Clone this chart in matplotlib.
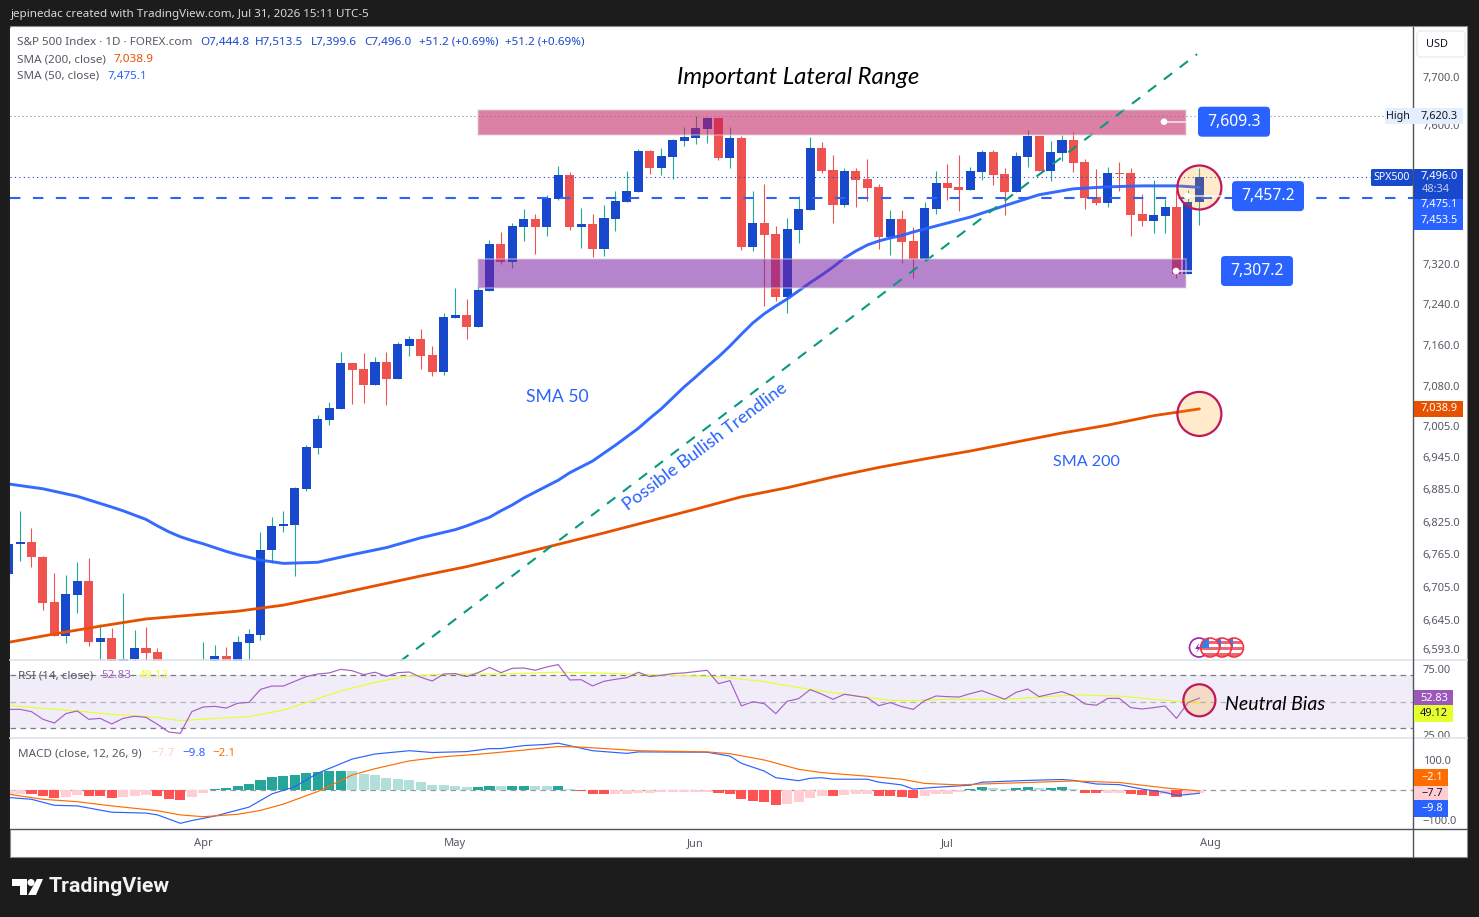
import matplotlib
matplotlib.use("Agg")
import matplotlib.pyplot as plt
from matplotlib.patches import Rectangle, FancyBboxPatch, Circle, Polygon
from matplotlib.ticker import NullLocator, FixedLocator, FixedFormatter
from matplotlib.transforms import ScaledTranslation

# ---------- data ----------
open_ = [6731,6785,6790,6762,6680,6618,6693,6718,6607,6614,6551,6577,6596,6589,6555,6530,6515,6540,6555,6582,
         6564,6605,6620,6774,6818,6821,6888,6965,7018,7039,7127,7116,7085,7129,7097,7161,7173,7143,7110,7215,
         7221,7197,7268,7361,7325,7395,7411,7395,7452,7500,7395,7401,7351,7411,7446,7466,7549,7514,7537,7569,
         7576,7594,7616,7535,7576,7355,7403,7381,7256,7389,7429,7555,7510,7440,7508,7492,7476,7375,7411,7367,
         7331,7432,7484,7476,7470,7506,7547,7502,7466,7537,7580,7508,7545,7571,7527,7456,7444,7504,7504,7421,
         7407,7417,7436,7301,7444.8]
high = [6801,6846,6816,6764,6733,6729,6753,6759,6640,6632,6696,6629,6634,6596,6565,6550,6555,6607,6602,6598,
        6618,6631,6807,6835,6846,6891,6970,7027,7052,7149,7127,7147,7139,7149,7167,7179,7193,7160,7225,7274,
        7252,7278,7369,7385,7403,7432,7421,7460,7518,7506,7434,7421,7440,7468,7508,7553,7551,7555,7574,7598,
        7620.3,7620,7616,7598,7580,7468,7482,7397,7413,7458,7578,7567,7541,7514,7514,7533,7482,7429,7429,7395,
        7446,7508,7522,7541,7516,7551,7551,7514,7547,7592,7580,7569,7582,7588,7533,7512,7516,7527,7514,7462,
        7490,7452,7470,7470,7513.5]
low = [6718,6755,6744,6665,6618,6605,6660,6600,6559,6537,6540,6569,6560,6540,6510,6500,6505,6530,6546,6552,
       6552,6569,6611,6751,6807,6727,6884,6953,7008,7039,7048,7050,7085,7046,7097,7141,7116,7102,7104,7215,
       7173,7197,7268,7321,7313,7367,7341,7377,7450,7389,7353,7335,7337,7387,7446,7466,7502,7500,7492,7559,
       7563,7565,7531,7514,7349,7347,7238,7248,7225,7363,7429,7504,7403,7436,7436,7448,7351,7339,7323,7293,
       7331,7421,7450,7427,7470,7490,7480,7419,7466,7516,7508,7488,7529,7506,7432,7440,7436,7468,7377,7397,
       7383,7383,7293,7301,7399.6]
close = [6786,6790,6761,6678,6618,6694,6718,6607,6614,6551,6578,6596,6587,6546,6530,6515,6540,6560,6582,6559,
         6607,6622,6775,6819,6823,6889,6967,7020,7041,7127,7114,7085,7129,7097,7163,7173,7141,7110,7217,7221,
         7197,7270,7361,7325,7397,7411,7395,7454,7500,7395,7401,7351,7413,7448,7468,7549,7514,7539,7571,7578,
         7596,7616,7535,7576,7355,7403,7379,7256,7391,7432,7555,7508,7440,7508,7490,7474,7375,7411,7365,7331,
         7434,7484,7474,7470,7508,7547,7500,7466,7539,7580,7508,7547,7571,7525,7454,7444,7504,7502,7419,7407,
         7419,7436,7301,7446,7496.0]

sma50_bars = [0,3,6,9,10,11,12,13,14,15,16,17,18,19,20,21,22,23,24,27,30,33,36,39,40,41,42,43,44,45,46,47,48,49,50,
              51,52,53,54,55,56,57,58,59,60,61,62,63,64,65,66,67,68,69,70,71,72,73,74,75,76,77,78,79,80,81,84,87,90,93,96,99,102,104]
sma50_vals = [6897,6888,6874,6854,6847,6839,6831,6819,6808,6799,6792,6786,6779,6772,6766,6761,6756,6753,6750,6752,
              6766,6779,6797,6812,6819,6827,6835,6847,6858,6871,6882,6893,6904,6918,6929,
              6940,6955,6970,6986,7002,7021,7039,7060,7081,7100,7120,7139,7160,7183,7205,7223,7238,7252,7268,7284,7299,
              7315,7333,7347,7359,7367,7373,7378,7385,7391,7397,7415,7438,7460,7472,7476,7478,7478,7475.1]
sma200_bars = [0,4,8,12,16,20,24,28,32,36,40,44,48,52,56,60,64,68,72,76,80,84,88,92,96,100,104]
sma200_vals = [6607,6622,6636,6649,6656,6663,6674,6691,6709,6727,6744,6764,6785,6806,6828,6850,6873,6890,6910,6928,
               6944,6959,6976,6993,7008,7026,7038.9]

rsi = [44.3,44.3,42.6,36.8,34.0,41.1,43.1,36.8,37.5,33.3,37.5,39.1,38.3,33.0,27.2,26.2,42.6,46.1,46.6,45.3,
       48.9,49.6,59.4,61.9,61.9,65.5,69.0,71.0,71.8,74.5,73.5,70.5,72.3,69.2,72.0,72.5,68.5,65.7,71.0,71.3,
       69.0,72.0,76.0,72.0,75.3,75.5,73.8,76.3,78.1,66.5,66.7,62.0,65.5,67.0,68.2,72.3,69.0,70.0,71.3,71.8,
       72.8,73.8,63.7,66.0,46.9,50.1,48.6,41.1,50.4,52.4,59.2,55.9,51.9,55.7,54.4,53.1,47.1,49.4,46.4,44.3,
       50.9,54.4,53.9,53.6,56.2,58.4,55.2,51.9,57.2,59.7,53.9,55.9,57.7,54.4,48.4,47.4,52.6,52.6,45.6,44.6,
       45.6,46.9,37.5,49.4,52.83]
rsi_ma_bars = [0,2,5,9,13,15,18,21,24,26,29,32,35,38,43,48,51,56,62,66,69,73,77,79,82,85,88,93,97,100,104]
rsi_ma_vals = [47.4,45.8,43.8,40.6,38.3,35.8,37.5,38.8,43.8,49.4,58.2,64.7,69.5,70.8,71.0,72.3,71.8,70.5,69.0,65.2,
               60.7,55.7,51.1,50.9,51.9,51.9,52.4,55.2,54.4,51.9,49.12]

macd_hist = [-15,-12,-12.5,-19,-26,-22,-16,-19,-19.5,-26,-22,-19,-16,-19,-29,-32,-22,-9,4,8,
             14,21,34,44,48,51,58,61,64,64.5,64,54,51,41,38,34,28,18,17.5,14,
             11,11.5,14,13.5,14,14.5,14,13.5,14,4,-2,-12,-12.5,-12,-11.5,-9,-8.5,-7,-6.5,-6.3,
             -6.2,-6,-10,-13,-30,-37,-40,-50,-47,-40,-27,-20,-20.5,-17,-13,-12.8,-20,-20.3,-23,-27,
             -20,-13,-11,-7,3,10,7,5.5,7,12,8,9,9.5,5.5,-8,-9,-8,-7.5,-13,-16,
             -19,-13,-22,-11,-7.7]
macd_bars = [0,2,4,6,9,12,13,15,16,18,21,23,25,27,30,32,35,37,40,42,43,45,47,48,51,54,55,61,63,64,66,67,69,70,71,72,75,76,78,79,81,84,85,89,92,93,95,97,99,101,102,103,104]
macd_vals = [-24,-30,-50,-52,-73,-76,-82,-110,-101,-86,-56,-12,12,57,104,121,132,126,129,139,139,149,153,157,132,123,128,127,114,90,64,42,32,40,42,37,37,27,18,4,10,17,27,33,36,33,21,19,4,-7,-17,-14,-9.8]
signal_bars = [0,3,6,9,13,15,17,20,22,24,27,30,32,35,38,41,45,48,50,55,61,63,66,69,71,75,78,80,83,85,93,97,101,104]
signal_vals = [-13,-30,-38,-52,-68,-82,-88,-80,-67,-46,-4,51,72,98,112,120,134,146,144,132,128,122,101,70,59,47,37,23,18,21,31,26,8,-2.1]

month_bars = [17,39,60,82,105]
month_labels = ["Apr","May","Jun","Jul","Aug"]
price_ticks = [7700,7600,7320,7240,7160,7080,7005,6945,6885,6825,6765,6705,6645,6593]

range_top = (7582,7634)
range_bottom = (7274,7331)
period_high = 7620.3
last_close = 7496.0
hline_level = 7453.5
trend_start = (34.2,6573)
trend_end = (103.8,7750)
level_tags = [7609.3,7457.2,7307.2]

# ---------- style ----------
BG="#1c1c1c"; UP="#1848cc"; UPW="#22ab94"; DN="#ef5350"; BLUE="#2962ff"; ORANGE="#e65100"
GRAY="#555963"; TXT="#131722"; FONT="Noto Sans"; ITAL="Lato"; LEG=8.4
plt.rcParams['font.family']=[FONT,'DejaVu Sans']
W,H=1479,917
fig=plt.figure(figsize=(W/100,H/100),dpi=100,facecolor=BG)
def axpx(x0,y0,x1,y1,**k):
    return fig.add_axes([x0/W,1-y1/H,(x1-x0)/W,(y1-y0)/H],**k)

bg=fig.add_axes([0,0,1,1],zorder=-1); bg.set_xlim(0,W); bg.set_ylim(H,0); bg.axis('off')
bg.add_patch(Rectangle((10,26),1457,831,fc="white",ec="#8a8a8a",lw=0.8))

BAR0,BARSTEP=8.6,11.45
xlim=((10-BAR0)/BARSTEP,(1413-BAR0)/BARSTEP)
ax=axpx(10,28,1413,661); rs=axpx(10,661,1413,738); mc=axpx(10,739,1413,829)
bars=list(range(len(close)))
for a in (ax,rs,mc):
    a.set_xlim(*xlim)
    for s in a.spines.values(): s.set_visible(False)
    a.yaxis.tick_right()
    a.tick_params(axis='y',length=0,pad=7,labelsize=8.0,labelcolor=GRAY)
    a.tick_params(axis='x',length=0)
    a.set_xticks([])

# main pane
ax.set_yscale('log'); ax.set_ylim(6573.6,7805.2)
ax.yaxis.set_major_locator(FixedLocator(price_ticks))
ax.yaxis.set_major_formatter(FixedFormatter([f"{v:,.1f}" for v in price_ticks]))
ax.yaxis.set_minor_locator(NullLocator())
for i,(o,h,l,c) in enumerate(zip(open_,high,low,close)):
    up=c>=o
    ax.vlines(i,l,h,color=UPW if up else DN,lw=0.8,zorder=2)
    ax.bar(i,max(abs(c-o),2),bottom=min(o,c),width=0.79,color=UP if up else DN,lw=0,zorder=2.5)
ax.plot(sma200_bars,sma200_vals,color=ORANGE,lw=2.0,zorder=3,solid_capstyle='round')
ax.plot(sma50_bars,sma50_vals,color=BLUE,lw=2.1,zorder=3,solid_capstyle='round',alpha=0.95)
x0r=(478-BAR0)/BARSTEP; x1r=(1186-BAR0)/BARSTEP
ax.add_patch(Rectangle((x0r,range_top[0]),x1r-x0r,range_top[1]-range_top[0],fc="#c2185b",alpha=0.55,ec="none",zorder=4))
ax.add_patch(Rectangle((x0r,range_bottom[0]),x1r-x0r,range_bottom[1]-range_bottom[0],fc="#7b1fa2",alpha=0.55,ec="none",zorder=4))
ax.axhline(period_high,color="#787b86",lw=0.72,ls=(0,(1,3)),zorder=5)
ax.axhline(last_close,color=UP,lw=0.8,ls=(0,(1,3)),zorder=5)
ax.axhline(hline_level,color=BLUE,lw=1.5,ls=(0,(5,6)),zorder=5)
ax.plot([trend_start[0],trend_end[0]],[trend_start[1],trend_end[1]],color="#089981",lw=1.5,ls=(0,(5,4.6)),zorder=5)
up_px=ScaledTranslation(0,1/100,fig.dpi_scale_trans)
for lab in ax.get_yticklabels():
    lab.set_transform(lab.get_transform()+up_px)

# RSI pane
rs.set_ylim(22.7,80.8)
rs.axhspan(30,70,color="#7e57c2",alpha=0.1,lw=0,zorder=1)
for v,col in ((70,"#787b86"),(30,"#787b86"),(50,"#b2b5be")):
    rs.axhline(v,color=col,lw=0.9,ls=(0,(4.5,3.5)),zorder=2)
rs.plot(rsi_ma_bars,rsi_ma_vals,color="#e6ff2e",lw=0.85,zorder=3)
rs.plot(bars,rsi,color="#a45fc7",lw=0.85,zorder=4)
rs.set_yticks([75,25]); rs.set_yticklabels(["75.00","25.00"])

# MACD pane
mc.set_ylim(-129,171)
mc.axhline(0,color="#9598a1",lw=0.9,ls=(0,(4.5,3.5)),zorder=1)
hcol=[]
for i,v in enumerate(macd_hist):
    prev=macd_hist[i-1] if i else v
    if v>=0: hcol.append("#26a69a" if v>=prev else "#b2dfdb")
    else: hcol.append("#ff5252" if v<prev else "#ffcdd2")
mc.bar(bars,macd_hist,width=0.88,color=hcol,lw=0,zorder=2)
mc.plot(macd_bars,macd_vals,color=BLUE,lw=0.85,zorder=3)
mc.plot(signal_bars,signal_vals,color="#ff6d00",lw=0.85,zorder=4)
mc.set_yticks([100,-100]); mc.set_yticklabels(["100.0","−100.0"])
mc.set_xticks(month_bars); mc.set_xticklabels(month_labels)
mc.tick_params(axis='x',length=0,pad=6.5,labelsize=8.0,labelcolor=GRAY)

# ---------- overlay ----------
ov=fig.add_axes([0,0,1,1],zorder=10,facecolor="none"); ov.set_xlim(0,W); ov.set_ylim(H,0); ov.axis('off')
def to_ov(a,x,y):
    return ov.transData.inverted().transform(a.transData.transform((x,y)))
def py(p): return to_ov(ax,0,p)[1]
def bx(i): return to_ov(ax,i,6800)[0]
def t(x,y,s,color=GRAY,size=7.9,ha='left',**k):
    return ov.text(x,y,s,color=color,fontsize=size,ha=ha,va='center',**k)
def box(x0,y0,x1,y1,color,r=1.5,z=6):
    ov.add_patch(FancyBboxPatch((x0+r,y0+r),x1-x0-2*r,y1-y0-2*r,boxstyle=f"round,pad={r},rounding_size={r}",fc=color,ec="none",zorder=z))

# frame lines
ov.plot([10,1467],[660,660],color="#e0e3eb",lw=1.2,zorder=1)
ov.plot([10,1467],[738,738],color="#e0e3eb",lw=1.2,zorder=1)
ov.plot([10,1467],[829,829],color="#50535e",lw=1.0,zorder=1)
ov.plot([1413,1413],[27,857],color="#50535e",lw=1.0,zorder=1)

# halo of range boxes
for rng in (range_top,range_bottom):
    y0,y1=py(rng[1]),py(rng[0])
    ov.add_patch(Rectangle((478,y0),708,y1-y0,fc="none",ec="#d8d8d8",lw=1.2,alpha=0.5,zorder=1.5))

# header and legends
t(11,14.5,"jepinedac created with TradingView.com, Jul 31, 2026 15:11 UTC-5",color="#d6d8de",size=LEG)
t(17,42.5,"S&P 500 Index · 1D · FOREX.com",size=LEG)
for x,s in ((200,"O7,444.8"),(255,"H7,513.5"),(311,"L7,399.6"),(364,"C7,496.0"),(419,"+51.2 (+0.69%)"),(505,"+51.2 (+0.69%)")):
    t(x,42.5,s,color=UP,size=LEG)
t(17,59.5,"SMA (200, close)",size=LEG); t(113,59.5,"7,038.9",color=ORANGE,size=LEG)
t(17,76.5,"SMA (50, close)",size=LEG); t(107,76.5,"7,475.1",color=BLUE,size=LEG)
t(18,676,"RSI (14, close)",size=LEG); t(101,676,"52.83",color="#a45fc7",size=LEG); t(139,676,"49.12",color="#e6ff2e",size=LEG)
t(18,754,"MACD (close, 12, 26, 9)",size=LEG); t(151,754,"−7.7",color="#ffcdd2",size=LEG); t(182,754,"−9.8",color=BLUE,size=LEG); t(212,754,"−2.1",color="#ff6d00",size=LEG)

# drawn labels
t(798,77,"Important Lateral Range",color="black",size=17.2,ha='center',family=ITAL,style='italic')
t(557,397,"SMA 50",color=BLUE,size=12.7,ha='center',family=ITAL)
t(1086,462.5,"SMA 200",color=BLUE,size=11.6,ha='center',family=ITAL)
t(705,447,"Possible Bullish Trendline",color=BLUE,size=12.9,ha='center',family=ITAL,rotation=37,rotation_mode='anchor')
t(1275,705,"Neutral Bias",color="black",size=14,ha='center',family=ITAL,style='italic')

# circles
for cy,r in ((py(last_close)+10.5,22),(py(7038.9)+5,22),(700.3,16)):
    ov.add_patch(Circle((bx(104),cy),r,fc="#ff9800",ec="none",alpha=0.2,zorder=3))
    ov.add_patch(Circle((bx(104),cy),r,fc="none",ec="#c2185b",lw=1.6,zorder=3.1))

# level tags with anchors
tag_boxes=((1198,1270),(1232,1304),(1221,1293))
anchors=((1164,1186),(1187,1220),(1176,1192))
for v,(x0,x1),(ax0,ax1) in zip(level_tags,tag_boxes,anchors):
    yc=py(v)
    ov.plot([ax0,ax1],[yc,yc],color="white",lw=1.2,alpha=0.75,zorder=3.5)
    ov.add_patch(Circle((ax0,yc),3.3,fc="white",ec="none",zorder=3.6))
    box(x0,yc-15,x1,yc+15,BLUE,r=4)
    t((x0+x1)/2,yc,f"{v:,.1f}",color="white",size=11.3,ha='center',zorder=7)

# price-scale tags
box(1385,108,1463,124,"#e3effd",r=1.5)
t(1398,116,"High",color=TXT,ha='center',size=7.7,zorder=7)
t(1439,116,"7,620.3",color=TXT,ha='center',zorder=7)
box(1371,169,1413,186,UP,r=1.5)
t(1392,177.5,"SPX500",color="white",ha='center',size=7.6,zorder=7)
ov.add_patch(Rectangle((1414,169),49,30,fc=UP,ec="none",zorder=6))
t(1439,177,"7,496.0",color="white",ha='center',zorder=7,fontweight='bold')
t(1436,190,"48:34",color="#c6cdea",ha='center',zorder=7)
ov.add_patch(Rectangle((1414,199),49,31,fc=BLUE,ec="none",zorder=6))
t(1439,205,"7,475.1",color="white",ha='center',zorder=7,fontweight='bold')
t(1439,221,"7,453.5",color="white",ha='center',zorder=7,fontweight='bold')
ov.add_patch(Rectangle((1414,401),49,16,fc=ORANGE,ec="none",zorder=6))
t(1439,409,"7,038.9",color="white",ha='center',zorder=7,fontweight='bold')
ov.add_patch(Rectangle((1414,690),39,15,fc="#9c57bb",ec="none",zorder=6))
t(1434,698.5,"52.83",color="white",ha='center',zorder=7,fontweight='bold')
ov.add_patch(Rectangle((1414,705),39,17,fc="#e6ff2e",ec="none",zorder=6))
t(1434,714,"49.12",color=TXT,ha='center',zorder=7,fontweight='bold')
for y0,y1,fc,tc,s in ((769,786,"#ff6d00","white","−2.1"),(786,800,"#ffcdd2",TXT,"−7.7"),(800,817,BLUE,"white","−9.8")):
    ov.add_patch(Rectangle((1414,y0),34,y1-y0,fc=fc,ec="none",zorder=6))
    t(1432,(y0+y1)/2,s,color=tc,ha='center',zorder=7,fontweight='bold')

# USD button
ov.add_patch(FancyBboxPatch((1420,34),42,20,boxstyle="round,pad=3,rounding_size=4",fc="white",ec="#ececec",lw=1.0,zorder=6))
t(1437,44.5,"USD",color=TXT,ha='center',size=7.9,zorder=7)

# event icons
ev=Circle((1199,647.5),9.5,fc="white",ec="#9c27b0",lw=1.2,zorder=3)
ov.add_patch(ev)
ov.add_patch(Polygon([(1199,643),(1195,649),(1198,649),(1196,653),(1201,647),(1198,647)],fc="#9c27b0",ec="none",zorder=3.1))
for k,cx in enumerate((1234,1222,1210)):
    z=4+k
    ov.add_patch(Circle((cx,647.5),9.5,fc="white",ec="none",zorder=z))
    for yy in (640.5,647,653):
        s=Rectangle((cx-10,yy),20,3,fc="#f0656f",ec="none",zorder=z+0.1); ov.add_patch(s); s.set_clip_path(Circle((cx,647.5),9.5,transform=ov.transData))
    s=Rectangle((cx-10,638),9,9.5,fc="#2f80ed",ec="none",zorder=z+0.2); ov.add_patch(s); s.set_clip_path(Circle((cx,647.5),9.5,transform=ov.transData))
    ov.add_patch(Circle((cx,647.5),9.5,fc="none",ec="#f23645",lw=1.2,zorder=z+0.3))

# TradingView logo
ov.add_patch(Polygon([(12,879),(27,879),(27,895),(20,895),(20,886),(12,886)],fc="white",ec="none"))
ov.add_patch(Circle((31,882.5),3.5,fc="white",ec="none"))
ov.add_patch(Polygon([(37,879),(43,879),(36,895),(28,895)],fc="white",ec="none"))
t(49,887,"TradingView",color="#f2f2f2",size=15.4,fontweight='bold',family="Roboto")

fig.savefig("out.png",dpi=100,facecolor=BG)
